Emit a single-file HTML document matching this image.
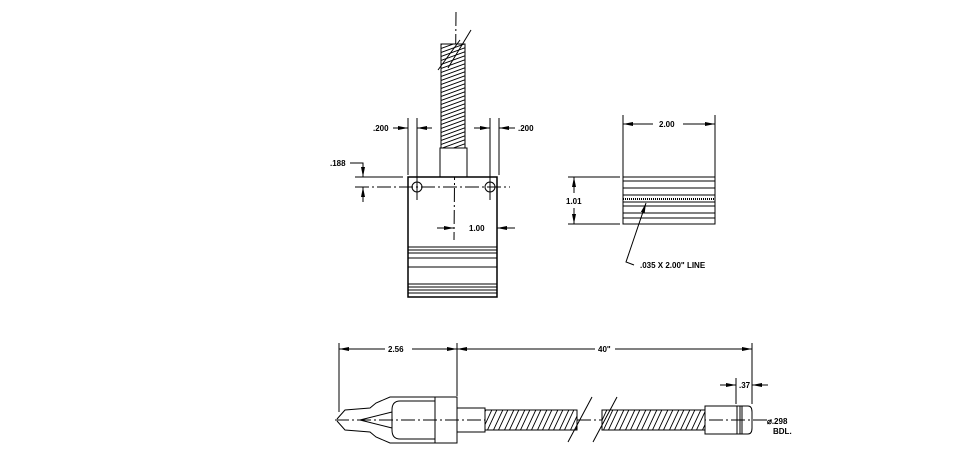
<!DOCTYPE html>
<html><head><style>body{margin:0;background:#fff}svg{display:block}text{font-family:"Liberation Sans",sans-serif;font-weight:bold;font-size:8px;fill:#000}</style></head>
<body>
<svg width="960" height="450" viewBox="0 0 960 450" xmlns="http://www.w3.org/2000/svg">
<defs>
<marker id="a" markerWidth="10" markerHeight="6" refX="10" refY="3" orient="auto"><path d="M0,1 L10,3 L0,5z" fill="#000"/></marker>
<pattern id="sp" width="11" height="22" patternUnits="userSpaceOnUse" patternTransform="skewX(-25)"><rect width="11" height="22" fill="#fff"/><line x1="1" y1="0" x2="1" y2="22" stroke="#000" stroke-width="1"/><line x1="6" y1="0" x2="6" y2="22" stroke="#000" stroke-width="1"/></pattern>
<pattern id="sv" width="26" height="8" patternUnits="userSpaceOnUse" patternTransform="skewY(-20)"><rect width="26" height="8" fill="#fff"/><line x1="0" y1="1" x2="26" y2="1" stroke="#000"/><line x1="0" y1="5" x2="26" y2="5" stroke="#000"/></pattern>
</defs>
<g stroke="#000" fill="none" stroke-width="1">
<line x1="456" y1="12" x2="454" y2="240" stroke-dasharray="14,3,2,3"/>
<rect x="441" y="44" width="24" height="104" fill="url(#sv)"/>
<line x1="438" y1="70" x2="460" y2="40"/><line x1="448" y1="68" x2="471" y2="30"/>
<rect x="440" y="148" width="27" height="29" fill="#fff"/>
<rect x="408" y="177" width="89" height="120" stroke-width="1.5"/>
<line x1="355" y1="187" x2="510" y2="187" stroke-dasharray="14,3,2,3"/>
<circle cx="417" cy="187" r="5"/><circle cx="490" cy="187" r="5"/>
<line x1="417" y1="180" x2="417" y2="200"/><line x1="490" y1="180" x2="490" y2="200"/>
<path d="M408 247H497M408 250H497M408 253H497M408 258H497M408 267H497M408 284H497M408 287H497M408 290H497M408 293H497"/>
<line x1="408" y1="118" x2="408" y2="175"/><line x1="417" y1="118" x2="417" y2="180"/>
<line x1="490" y1="118" x2="490" y2="180"/><line x1="499" y1="118" x2="499" y2="175"/>
<line x1="393" y1="128" x2="408" y2="128" marker-end="url(#a)"/><line x1="432" y1="128" x2="417" y2="128" marker-end="url(#a)"/>
<line x1="474" y1="128" x2="490" y2="128" marker-end="url(#a)"/><line x1="515" y1="128" x2="499" y2="128" marker-end="url(#a)"/>
<line x1="355" y1="177" x2="403" y2="177"/>
<path d="M350 163H363V177" marker-end="url(#a)"/><line x1="363" y1="202" x2="363" y2="187" marker-end="url(#a)"/>
<line x1="437" y1="228" x2="454" y2="228" marker-end="url(#a)"/><line x1="515" y1="228" x2="497" y2="228" marker-end="url(#a)"/>
<rect x="623" y="177" width="92" height="47"/>
<path d="M623 181H715M623 188H715M623 195H715M623 202H715M623 206H715M623 213H715M623 218H715"/>
<line x1="623" y1="199" x2="715" y2="199" stroke-dasharray="1,1" stroke-width="2"/>
<line x1="623" y1="115" x2="623" y2="215"/><line x1="715" y1="115" x2="715" y2="215"/>
<line x1="653" y1="124" x2="623" y2="124" marker-end="url(#a)"/><line x1="683" y1="124" x2="715" y2="124" marker-end="url(#a)"/>
<line x1="568" y1="177" x2="620" y2="177"/><line x1="568" y1="224" x2="620" y2="224"/>
<line x1="574" y1="193" x2="574" y2="177" marker-end="url(#a)"/><line x1="574" y1="208" x2="574" y2="224" marker-end="url(#a)"/>
<path d="M634 265L626 262L646 203" marker-end="url(#a)"/>
<line x1="335" y1="420" x2="775" y2="420" stroke-dasharray="14,3,2,3"/>
<path d="M337 419L345 410L370 408L376 403L390 397L435 397M337 421L345 430L370 432L376 437L390 443L435 443" />
<path d="M435 401H400Q392 401 392 410V430Q392 439 400 439H435"/>
<path d="M392 412L360 420L392 428"/>
<rect x="435" y="397" width="22" height="46"/>
<rect x="457" y="408" width="28" height="24"/>
<rect x="485" y="410" width="92" height="20" fill="url(#sp)"/>
<rect x="602" y="410" width="103" height="20" fill="url(#sp)"/>
<line x1="568" y1="442" x2="592" y2="397"/><line x1="593" y1="442" x2="617" y2="397"/>
<rect x="705" y="406" width="32" height="28"/>
<path d="M737 406H748Q752 406 752 412V428Q752 434 748 434H737M740 406V434M742 406V434"/>
<line x1="339" y1="343" x2="339" y2="412"/><line x1="457" y1="343" x2="457" y2="396"/><line x1="752" y1="343" x2="752" y2="404"/>
<line x1="385" y1="349" x2="339" y2="349" marker-end="url(#a)"/><line x1="412" y1="349" x2="457" y2="349" marker-end="url(#a)"/>
<line x1="595" y1="349" x2="457" y2="349" marker-end="url(#a)"/><line x1="615" y1="349" x2="752" y2="349" marker-end="url(#a)"/>
<line x1="736" y1="378" x2="736" y2="404"/>
<line x1="720" y1="385" x2="736" y2="385" marker-end="url(#a)"/><line x1="768" y1="385" x2="752" y2="385" marker-end="url(#a)"/>
</g>
<text x="373" y="131">.200</text><text x="518" y="131">.200</text>
<text x="330" y="166">.188</text><text x="469" y="231">1.00</text>
<text x="659" y="127">2.00</text><text x="566" y="204">1.01</text>
<text x="640" y="268">.035 X 2.00" LINE</text>
<text x="388" y="352">2.56</text><text x="598" y="352">40"</text>
<text x="739" y="388">.37</text>
<text x="767" y="424">⌀.298</text><text x="773" y="434">BDL.</text>
</svg>
</body></html>
